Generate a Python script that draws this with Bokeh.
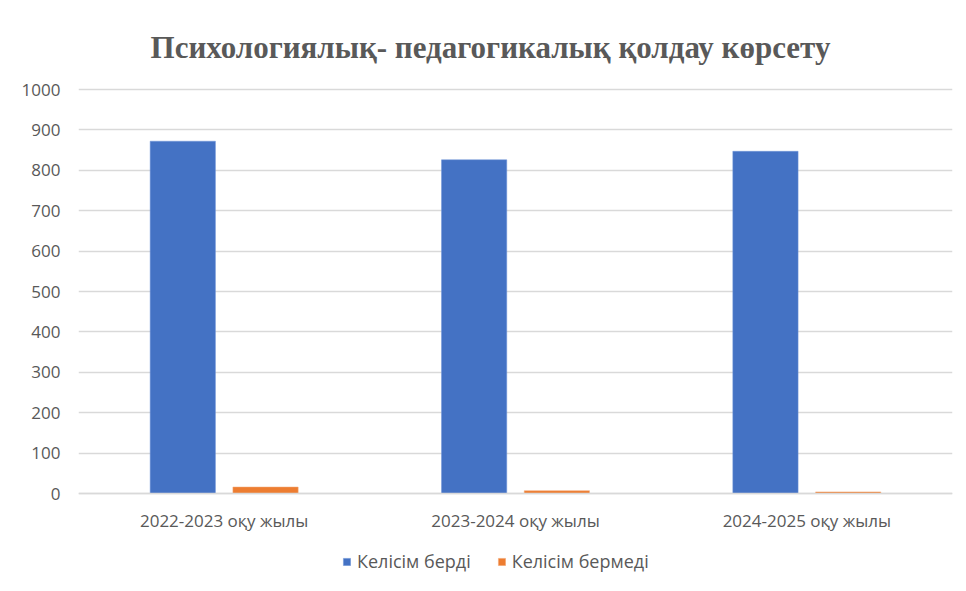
from bokeh.plotting import figure
from bokeh.models import FactorRange, Range1d, Legend, LegendItem, ColumnDataSource, Label, FixedTicker
from bokeh.transform import dodge
from bokeh.embed import file_html
from bokeh.resources import INLINE

categories = ["2022-2023 оқу жылы", "2023-2024 оқу жылы", "2024-2025 оқу жылы"]
agreed = [872, 826, 847]
not_agreed = [16, 7, 4]
series_names = ["Келісім берді", "Келісім бермеді"]
y_ticks = [0, 100, 200, 300, 400, 500, 600, 700, 800, 900, 1000]
title_text = "Психологиялық- педагогикалық қолдау көрсету"

# layout constants (pixels)
FRAME_W, FRAME_H = 874, 585
TOP_PX, ZERO_PX = 89, 493          # page y of the 1000 and 0 gridlines
px_per_unit = (ZERO_PX - TOP_PX) / 1000.0
y_lo = -(FRAME_H - ZERO_PX) / px_per_unit
y_hi = 1000 + TOP_PX / px_per_unit

src = ColumnDataSource(dict(cat=categories, a=agreed, b=not_agreed))

p = figure(frame_width=FRAME_W, frame_height=FRAME_H, x_range=FactorRange(*categories),
           y_range=Range1d(y_lo, y_hi),
           output_backend="svg", toolbar_location=None,
           min_border_left=78, min_border_right=8, min_border_top=0, min_border_bottom=0)
p.background_fill_color = "white"
p.border_fill_color = "white"
p.outline_line_color = None
p.x_range.range_padding = 0

r1 = p.vbar(x=dodge("cat", -0.142, range=p.x_range), top="a", width=0.224, source=src,
            fill_color="#4472C4", line_color="#6f95d8", line_width=0.5)
r2 = p.vbar(x=dodge("cat", 0.142, range=p.x_range), top="b", width=0.224, source=src,
            fill_color="#ED7D31", line_color="#f3a877", line_width=0.5)

p.yaxis.ticker = FixedTicker(ticks=y_ticks)
p.yaxis.axis_line_color = None
p.yaxis.major_tick_line_color = None
p.yaxis.minor_tick_line_color = None
p.yaxis.major_label_standoff = 12
p.yaxis.major_label_text_font = "Open Sans"
p.yaxis.major_label_text_font_size = "17px"
p.yaxis.major_label_text_color = "#595959"

p.xaxis.fixed_location = 0
p.xaxis.axis_line_color = "#d9d9d9"
p.xaxis.axis_line_width = 1.5
p.xaxis.major_tick_line_color = None
p.xaxis.minor_tick_line_color = None
p.xaxis.major_label_standoff = 9
p.xaxis.major_label_text_font = "Open Sans"
p.xaxis.major_label_text_font_size = "17px"
p.xaxis.major_label_text_color = "#595959"

p.xgrid.grid_line_color = None
p.ygrid.grid_line_color = "#d9d9d9"
p.ygrid.grid_line_width = 1.5

title = Label(x=412, y=FRAME_H - 47, x_units="screen", y_units="screen", text=title_text,
              text_align="center", text_baseline="middle", text_font="Liberation Serif",
              text_font_size="31px", text_font_style="bold", text_color="#595959")
p.add_layout(title)

legend = Legend(items=[LegendItem(label=series_names[0], renderers=[r1]),
                       LegendItem(label=series_names[1], renderers=[r2])],
                orientation="horizontal", location=(264, 12),
                label_text_font="Open Sans", label_text_font_size="18px", label_text_color="#595959",
                glyph_width=9, glyph_height=9, spacing=26, label_standoff=6,
                border_line_color=None, background_fill_alpha=0, margin=0, padding=4)
p.add_layout(legend)

open("out.html", "w").write(file_html(p, INLINE))
